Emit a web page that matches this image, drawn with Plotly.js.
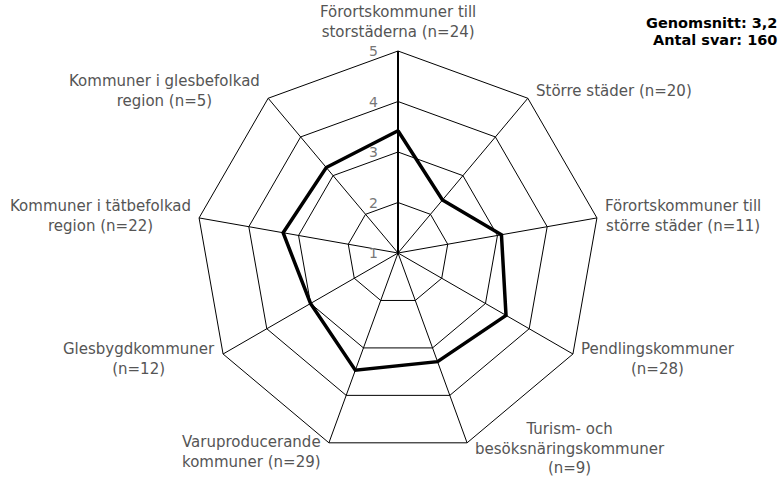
<!DOCTYPE html>
<html>
<head>
<meta charset="utf-8">
<script src="https://cdn.plot.ly/plotly-3.0.1.min.js"></script>
<style>html,body{margin:0;padding:0;background:#fff;}#chart{width:780px;height:477px;}</style>
</head>
<body>
<div id="chart"></div>
<script>
const categories = [
  "Förortskommuner till storstäderna (n=24)",
  "Större städer (n=20)",
  "Förortskommuner till större städer (n=11)",
  "Pendlingskommuner (n=28)",
  "Turism- och besöksnäringskommuner (n=9)",
  "Varuproducerande kommuner (n=29)",
  "Glesbygdkommuner (n=12)",
  "Kommuner i tätbefolkad region (n=22)",
  "Kommuner i glesbefolkad region (n=5)"
];
const categoryLabels = [
  "Förortskommuner till<br>storstäderna (n=24)",
  "Större städer (n=20)",
  "Förortskommuner till<br>större städer (n=11)",
  "Pendlingskommuner<br>(n=28)",
  "Turism- och<br>besöksnäringskommuner<br>(n=9)",
  "Varuproducerande<br>kommuner (n=29)",
  "Glesbygdkommuner<br>(n=12)",
  "Kommuner i tätbefolkad<br>region (n=22)",
  "Kommuner i glesbefolkad<br>region (n=5)"
];
const values = [3.42, 2.37, 3.08, 3.47, 3.29, 3.47, 3.0, 3.31, 3.21];
const radialTicks = [1, 2, 3, 4, 5];
const radialRange = [1, 5];
const summaryLines = ["Genomsnitt: 3,2", "Antal svar: 160"];

const W = 780, H = 477;
const labelFont = {family: "DejaVu Sans, Verdana, sans-serif", size: 15, color: "#555"};
const tickFont = {family: "DejaVu Sans, Verdana, sans-serif", size: 14, color: "#777"};

const trace = {
  type: "scatterpolar",
  mode: "lines",
  r: values.concat([values[0]]),
  theta: categories.concat([categories[0]]),
  line: {color: "#000", width: 3.5},
  hoverinfo: "skip",
  showlegend: false
};

const summaryAnn = summaryLines.map((t, i) => ({
  xref: "paper", yref: "paper", x: 779 / W, y: 1 - (23 + i * 17) / H,
  xanchor: "right", yanchor: "middle", showarrow: false,
  text: "<b>" + t + "</b>",
  font: {family: "DejaVu Sans, Verdana, sans-serif", size: 14.5, color: "#000"}
}));

const layout = {
  width: W, height: H,
  margin: {l: 0, r: 0, t: 0, b: 0},
  paper_bgcolor: "#fff",
  font: labelFont,
  showlegend: false,
  polar: {
    domain: {x: [196/W, 600/W], y: [22/H, 426/H]},
    gridshape: "linear",
    bgcolor: "#fff",
    radialaxis: {
      range: radialRange,
      tickvals: radialTicks,
      angle: 90,
      side: "counterclockwise",
      showline: true, linecolor: "#000", linewidth: 2,
      gridcolor: "#000", gridwidth: 1,
      ticks: "",
      showticklabels: false
    },
    angularaxis: {
      type: "category",
      categoryarray: categories,
      direction: "clockwise",
      rotation: 90,
      showline: true, linecolor: "#000", linewidth: 1,
      gridcolor: "#000", gridwidth: 1,
      ticks: "",
      showticklabels: false
    }
  },
  annotations: summaryAnn
};

const gd = document.getElementById("chart");
Plotly.newPlot(gd, [trace], layout, {displayModeBar: false, staticPlot: true}).then(() => {
  const sp = gd._fullLayout.polar._subplot;
  const cx = sp.cx, cy = sp.cy, R = sp.radius;
  const n = categories.length;
  const lineH = labelFont.size * 1.3;
  const anns = categoryLabels.map((txt, i) => {
    const th = i * 2 * Math.PI / n;
    const s = Math.sin(th), c = Math.cos(th);
    const px = cx + R * s, py = cy - R * c;
    const a = {
      xref: "paper", yref: "paper", x: px / W, y: 1 - py / H,
      showarrow: false, text: txt, align: "center", font: labelFont,
      xanchor: "center", yanchor: "middle", xshift: 0, yshift: 0
    };
    if (c > 0.9) { a.yanchor = "bottom"; a.yshift = 8; }
    else {
      a.yshift = 10 * c;
      if (s > 0.2) { a.xanchor = "left"; a.xshift = 6; }
      else if (s < -0.2) { a.xanchor = "right"; a.xshift = -6; }
      const h = txt.split("<br>").length * lineH;
      const maxCenter = H - h / 2 + 1;
      if (py - a.yshift > maxCenter) a.yshift = py - maxCenter;
    }
    return a;
  });
  const tickAnns = radialTicks.map(v => {
    const rr = (v - radialRange[0]) / (radialRange[1] - radialRange[0]) * R;
    return {
      xref: "paper", yref: "paper", x: (cx - 25) / W, y: 1 - (cy - rr) / H,
      xanchor: "center", yanchor: "middle", showarrow: false,
      text: String(v), font: tickFont
    };
  });
  return Plotly.relayout(gd, {annotations: summaryAnn.concat(anns, tickAnns)});
});
</script>
</body>
</html>
